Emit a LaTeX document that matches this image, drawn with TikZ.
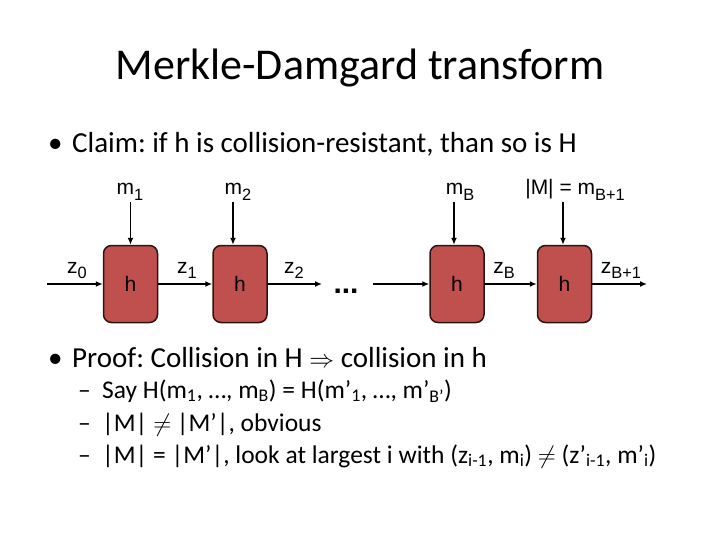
\documentclass[tikz,border=0pt]{standalone}
\usepackage{fontspec}
\setmainfont{Carlito}
\newfontfamily\arialfont{Liberation Sans}
\usetikzlibrary{arrows.meta,positioning}
\definecolor{boxred}{RGB}{192,80,77}
\definecolor{boxedge}{RGB}{45,20,20}
\newcommand{\lowidx}[1]{\raisebox{-0.28em}{\scalebox{0.78}{#1}}}
\frenchspacing

\begin{document}
\begin{tikzpicture}[x=1pt,y=-1pt,
    hbox/.style={draw=boxedge,fill=boxred,line width=1.5pt,rounded corners=8pt,
        minimum width=54pt,minimum height=77pt,font=\arialfont\fontsize{21}{24}\selectfont},
    lbl/.style={anchor=base,inner sep=0pt,font=\arialfont\fontsize{21}{24}\selectfont},
    arr/.style={line width=1.5pt,-{Latex[length=7pt,width=6pt]}},
    bul/.style={anchor=base west,inner sep=0pt,font=\fontsize{29}{32}\selectfont},
    subbul/.style={anchor=base west,inner sep=0pt,font=\fontsize{25.5}{28}\selectfont}]
    \useasboundingbox (0,0) rectangle (720,540);

    % title
    \node[font=\fontsize{44}{50}\selectfont,anchor=base] (title) at (360,80) {Merkle-Damgard transform};

    % claim
    \node[bul] (dotA) at (48,153) {\textbullet};
    \node[bul] (claim) at (72,153) {Claim: if h is collision-resistant, than so is H};

    % the chain of h boxes
    \node[hbox] (h1) at (130.5,284) {h};
    \node[hbox] (h2) at (240,284) {h};
    \node[hbox] (hB) at (457,284) {h};
    \node[hbox] (hB1) at (564.5,284) {h};

    \node[lbl,font=\arialfont\fontsize{30}{30}\selectfont\bfseries] (dots) at (346,293) {...};

    \coordinate (zin) at (47,284);
    \coordinate (z2end) at (322,284);
    \coordinate (zBin) at (373,284);
    \coordinate (zout) at (647,284);

    \draw[arr] (zin) -- (h1.west);
    \draw[arr] (h1.east) -- (h2.west);
    \draw[arr] (h2.east) -- (z2end);
    \draw[arr] (zBin) -- (hB.west);
    \draw[arr] (hB.east) -- (hB1.west);
    \draw[arr] (hB1.east) -- (zout);

    % message blocks
    \node[lbl] (m1) at (130,195) {m\lowidx{1}};
    \node[lbl] (m2) at (238,195) {m\lowidx{2}};
    \node[lbl] (mB) at (460,195) {m\lowidx{B}};
    \node[lbl] (mB1) at (575,195) {|M| = m\lowidx{B+1}};

    \draw[arr] ([yshift=43pt]h1.north) -- (h1.north);
    \draw[arr] ([xshift=-7pt,yshift=43pt]h2.north) -- ([xshift=-7pt]h2.north);
    \draw[arr] ([xshift=-3pt,yshift=43pt]hB.north) -- ([xshift=-3pt]hB.north);
    \draw[arr] ([xshift=-1.5pt,yshift=43pt]hB1.north) -- ([xshift=-1.5pt]hB1.north);

    % chaining values
    \node[lbl] (z0) at (77,273) {z\lowidx{0}};
    \node[lbl] (z1) at (187,273) {z\lowidx{1}};
    \node[lbl] (z2) at (294,273) {z\lowidx{2}};
    \node[lbl] (zB) at (504,273) {z\lowidx{B}};
    \node[lbl] (zB1) at (621,273) {z\lowidx{B+1}};

    % proof
    \node[bul] (dotB) at (48,367) {\textbullet};
    \node[bul] (proof) at (72,367) {Proof: Collision in H $\Rightarrow$ collision in h};
    \node[subbul] (dashA) at (78,398) {--};
    \node[subbul] (say) at (102,398) {Say H(m\textsubscript{1}, …, m\textsubscript{B}) = H(m’\textsubscript{1}, …, m’\textsubscript{B’})};
    \node[subbul] (dashB) at (78,431) {--};
    \node[subbul] (neq) at (102,431) {|M| $\neq$ |M’|, obvious};
    \node[subbul] (dashC) at (78,463) {--};
    \node[subbul] (eq) at (102,463) {|M| = |M’|, look at largest i with (z\textsubscript{i-1}, m\textsubscript{i}) $\neq$ (z’\textsubscript{i-1}, m’\textsubscript{i})};
\end{tikzpicture}
\end{document}
